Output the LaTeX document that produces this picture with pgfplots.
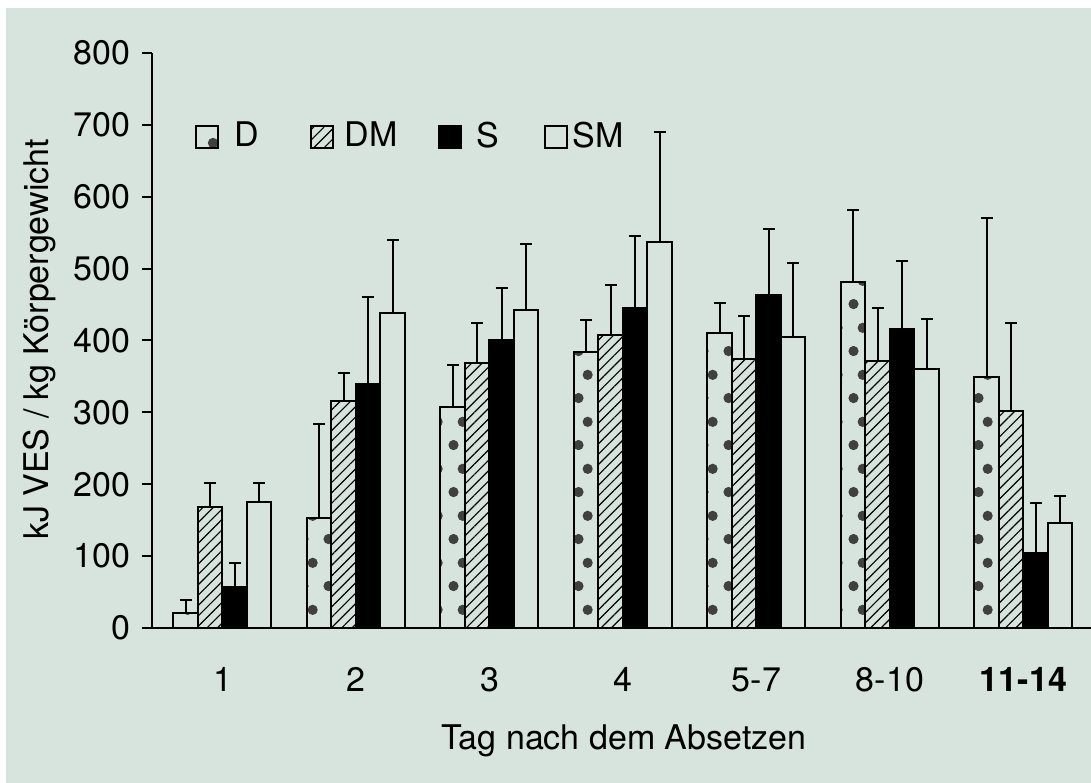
\documentclass[border=0pt]{standalone}
\usepackage{fontspec}
\setmainfont{TeX Gyre Heros}
\usepackage{pgfplots}
\pgfplotsset{compat=1.18}
\usetikzlibrary{patterns,patterns.meta}
\definecolor{bgc}{RGB}{214,228,221}
\tikzdeclarepattern{
  name=blobs,
  type=uncolored,
  bottom left={(0pt,0pt)}, top right={(7.35pt,14pt)},
  tile size={(7.35pt,14pt)},
  code={
    \fill (2.3pt,3pt) circle (1.55pt);
    \fill (5.1pt,10pt) circle (1.55pt);
  }
}
\newcommand{\fs}{\fontsize{10.2}{12}\selectfont}
\begin{document}
\begin{tikzpicture}
\begin{scope}[x=0.3pt,y=0.3pt]
\fill[white] (0,0) rectangle (1091,783);
\fill[bgc] (6,0) rectangle (1091,775);
\end{scope}
\begin{axis}[
  at={(45.6pt,46.5pt)}, anchor=south west,
  scale only axis, width=281.7pt, height=172.5pt,
  xmin=-0.528, xmax=6.506, ymin=0, ymax=800,
  axis x line*=bottom, axis y line*=left,
  axis line style={line width=0.6pt, black},
  ytick={0,100,...,800},
  xtick={0,...,6},
  xticklabels={1,2,3,4,5-7,8-10,\textbf{11-14}},
  x tick style={draw=none},
  y tick style={line width=0.6pt, black},
  tick align=outside, major tick length=3pt,
  /pgf/number format/assume math mode=true,
  tick label style={font=\fs},
  xticklabel style={anchor=base, yshift=-16pt},
  clip=false,
  ybar=0pt, bar width=7.35pt,
  legend columns=4,
  legend style={draw=none, fill=none, font=\fs, at={(axis description cs:0.0344,0.854)}, anchor=west,
    /tikz/column 1/.style={column sep=2.7pt},
    /tikz/column 2/.style={column sep=13.2pt},
    /tikz/column 3/.style={column sep=1.2pt},
    /tikz/column 4/.style={column sep=10.2pt},
    /tikz/column 5/.style={column sep=2.4pt},
    /tikz/column 6/.style={column sep=11.4pt},
    /tikz/column 7/.style={column sep=-0.6pt}},
  legend image code/.code={\draw[#1] (0pt,-3.3pt) rectangle (6.6pt,3.3pt);},
  every axis plot/.append style={draw=black, line width=0.6pt},
  mybars/.style={
    error bars/y dir=plus, error bars/y explicit,
    error bars/error mark=-,
    error bars/error bar style={line width=0.6pt, black},
    error bars/error mark options={rotate=90, mark size=1.8pt, line width=0.6pt, draw=black}},
]
\addplot[mybars, pattern=blobs, pattern color=black!75] coordinates {
 (0,21) +- (0,18)
 (1,153) +- (0,131)
 (2,307) +- (0,59)
 (3,384) +- (0,44)
 (4,410) +- (0,42)
 (5,481) +- (0,100)
 (6,349) +- (0,221)
};
\addplot[mybars, pattern={Lines[angle=45,distance=2.2pt,line width=0.35pt]}, pattern color=black] coordinates {
 (0,168) +- (0,34)
 (1,316) +- (0,39)
 (2,369) +- (0,55)
 (3,407) +- (0,70)
 (4,374) +- (0,60)
 (5,371) +- (0,74)
 (6,302) +- (0,122)
};
\addplot[mybars, fill=black] coordinates {
 (0,57) +- (0,33)
 (1,339) +- (0,121)
 (2,400) +- (0,73)
 (3,445) +- (0,100)
 (4,463) +- (0,92)
 (5,416) +- (0,94)
 (6,104) +- (0,70)
};
\addplot[mybars, fill=none] coordinates {
 (0,175) +- (0,27)
 (1,438) +- (0,102)
 (2,442) +- (0,92)
 (3,537) +- (0,153)
 (4,405) +- (0,103)
 (5,360) +- (0,70)
 (6,146) +- (0,38)
};
\legend{D,DM,S,SM}
\end{axis}
\begin{scope}[x=0.3pt,y=0.3pt]
\node[font=\fs, anchor=base, inner sep=0pt] at (624,33) {Tag nach dem Absetzen};
\node[font=\fs, anchor=base, rotate=90, inner sep=0pt] at (49,443.5) {kJ VES / kg Körpergewicht};
\end{scope}
\pgfresetboundingbox
\path[use as bounding box] (0,0) rectangle (327.3pt,234.9pt);
\end{tikzpicture}
\end{document}
